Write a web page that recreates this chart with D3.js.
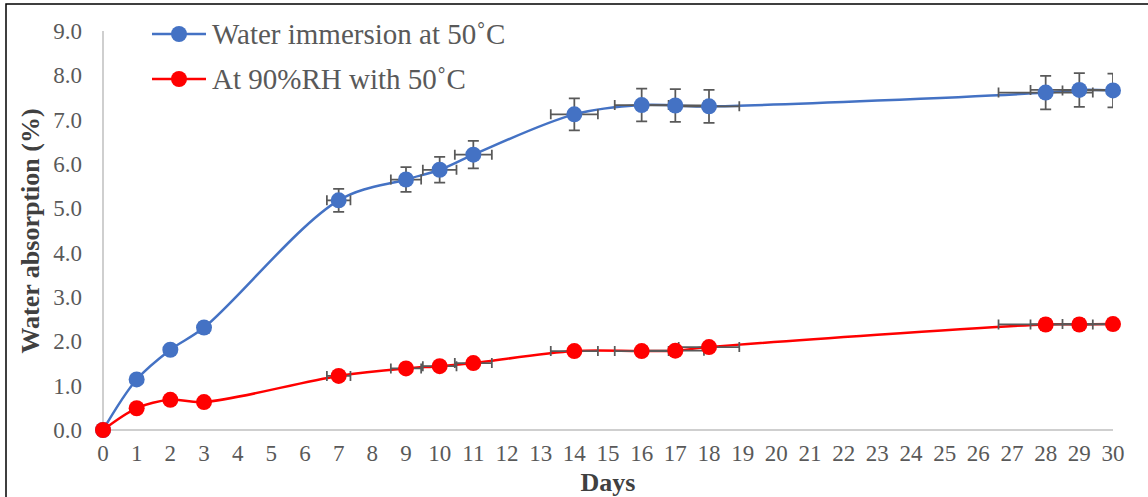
<!DOCTYPE html>
<html>
<head>
<meta charset="utf-8">
<script src="https://cdn.jsdelivr.net/npm/d3@7"></script>
<style>
  body { margin: 0; background: #fff; }
  svg { display: block; }
</style>
</head>
<body>
<svg id="chart"></svg>
<script>
// data
const days = [0, 1, 2, 3, 7, 9, 10, 11, 14, 16, 17, 18, 28, 29, 30]
const dayErr = [0, 0.05, 0.1, 0.15, 0.35, 0.45, 0.5, 0.55, 0.7, 0.8, 0.85, 0.9, 1.4, 1.45, 1.5]
const immersion = [0, 1.14, 1.81, 2.31, 5.18, 5.65, 5.87, 6.21, 7.12, 7.33, 7.32, 7.30, 7.61, 7.67, 7.66]
const immersionErr = [0, 0.06, 0.09, 0.12, 0.26, 0.28, 0.29, 0.31, 0.36, 0.37, 0.37, 0.37, 0.38, 0.38, 0.38]
const humidity = [0, 0.49, 0.68, 0.63, 1.22, 1.39, 1.44, 1.51, 1.78, 1.78, 1.79, 1.87, 2.38, 2.38, 2.39]
const humidityErr = [0, 0.02, 0.03, 0.03, 0.06, 0.07, 0.07, 0.08, 0.09, 0.09, 0.09, 0.09, 0.12, 0.12, 0.12]
const xTicks = d3.range(0, 31)
const yTicks = [0, 1, 2, 3, 4, 5, 6, 7, 8, 9]

const series = [
  { name: 'Water immersion at 50˚C', color: '#4472C4', values: immersion, err: immersionErr },
  { name: 'At 90%RH with 50˚C', color: '#FF0000', values: humidity, err: humidityErr }
]

const width = 1148
const height = 497
const serif = '"Liberation Serif", "Times New Roman", serif'

const svg = d3.select('#chart').attr('width', width).attr('height', height)

// outer frame (only left and top edges show)
svg.append('rect')
  .attr('x', 6).attr('y', 4)
  .attr('width', 1400).attr('height', 800)
  .attr('fill', 'none')
  .attr('stroke', '#000')
  .attr('stroke-width', 1.5)

const x = d3.scaleLinear().domain([0, 30]).range([103, 1113])
const y = d3.scaleLinear().domain([0, 9]).range([430, 31])

// axis lines
svg.append('line')
  .attr('x1', x(0)).attr('x2', x(0)).attr('y1', y(9)).attr('y2', y(0))
  .attr('stroke', '#BFBFBF').attr('stroke-width', 1.5)
svg.append('line')
  .attr('x1', x(0)).attr('x2', x(30)).attr('y1', y(0)).attr('y2', y(0))
  .attr('stroke', '#BFBFBF').attr('stroke-width', 1.5)

// tick labels
svg.append('g')
  .selectAll('text')
  .data(yTicks)
  .join('text')
  .attr('x', 82)
  .attr('y', (d) => y(d))
  .attr('dy', '0.35em')
  .attr('text-anchor', 'end')
  .attr('font-family', serif)
  .attr('font-size', 23)
  .attr('fill', '#595959')
  .text((d) => d.toFixed(1))

svg.append('g')
  .selectAll('text')
  .data(xTicks)
  .join('text')
  .attr('x', (d) => x(d))
  .attr('y', 461)
  .attr('text-anchor', 'middle')
  .attr('font-family', serif)
  .attr('font-size', 23)
  .attr('fill', '#595959')
  .text((d) => d)

// axis titles
svg.append('text')
  .attr('x', x(15))
  .attr('y', 491)
  .attr('text-anchor', 'middle')
  .attr('font-family', serif)
  .attr('font-weight', 'bold')
  .attr('font-size', 26)
  .attr('fill', '#404040')
  .text('Days')

svg.append('text')
  .attr('transform', 'translate(39,231) rotate(-90)')
  .attr('text-anchor', 'middle')
  .attr('font-family', serif)
  .attr('font-weight', 'bold')
  .attr('font-size', 26)
  .attr('fill', '#404040')
  .text('Water absorption (%)')

// error bars get clipped at the plot edges like excel does
svg.append('clipPath').attr('id', 'plot-clip')
  .append('rect')
  .attr('x', x(0)).attr('y', 0)
  .attr('width', x(30) - x(0)).attr('height', height)

const line = d3.line()
  .x((d) => x(d[0]))
  .y((d) => y(d[1]))
  .curve(d3.curveCatmullRom.alpha(0.5))

series.forEach((s) => {
  const pts = days.map((d, i) => [d, s.values[i], dayErr[i], s.err[i]])

  svg.append('path')
    .datum(pts)
    .attr('d', line)
    .attr('fill', 'none')
    .attr('stroke', s.color)
    .attr('stroke-width', 2.5)

  const eb = svg.append('g')
    .attr('clip-path', 'url(#plot-clip)')
    .attr('stroke', '#595959')
    .attr('stroke-width', 1.75)
    .attr('fill', 'none')

  eb.selectAll('path.xerr')
    .data(pts.filter((p) => p[2] > 0))
    .join('path')
    .attr('class', 'xerr')
    .attr('d', (p) => {
      const x0 = x(p[0] - p[2]), x1 = x(p[0] + p[2]), yy = y(p[1])
      return `M${x0},${yy}H${x1}M${x0},${yy - 5}V${yy + 5}M${x1},${yy - 5}V${yy + 5}`
    })

  eb.selectAll('path.yerr')
    .data(pts.filter((p) => p[3] > 0))
    .join('path')
    .attr('class', 'yerr')
    .attr('d', (p) => {
      const xx = x(p[0]), y0 = y(p[1] - p[3]), y1 = y(p[1] + p[3])
      return `M${xx},${y0}V${y1}M${xx - 5.5},${y0}H${xx + 5.5}M${xx - 5.5},${y1}H${xx + 5.5}`
    })

  svg.append('g')
    .selectAll('circle')
    .data(pts)
    .join('circle')
    .attr('cx', (p) => x(p[0]))
    .attr('cy', (p) => y(p[1]))
    .attr('r', 8)
    .attr('fill', s.color)
})

// legend
const legend = svg.append('g')
  .selectAll('g')
  .data(series)
  .join('g')
  .attr('transform', (d, i) => `translate(152,${34 + i * 45})`)

legend.append('line')
  .attr('x1', 0).attr('x2', 54)
  .attr('stroke', (d) => d.color)
  .attr('stroke-width', 2.5)
legend.append('circle')
  .attr('cx', 27).attr('r', 8)
  .attr('fill', (d) => d.color)
legend.append('text')
  .attr('x', 60)
  .attr('dy', '0.35em')
  .attr('font-family', serif)
  .attr('font-size', 29)
  .attr('fill', '#595959')
  .text((d) => d.name)
</script>
</body>
</html>
